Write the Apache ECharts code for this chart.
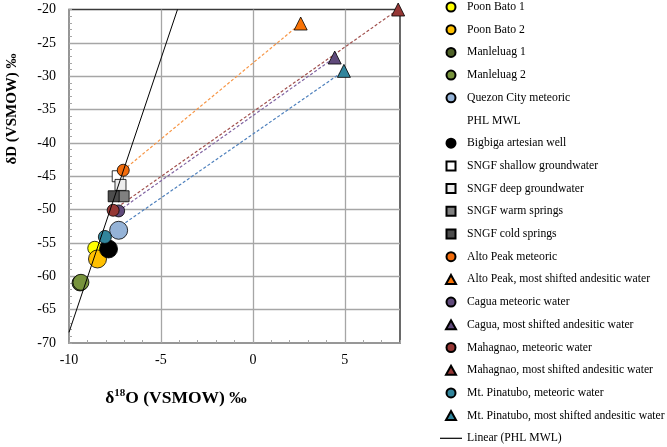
<!DOCTYPE html>
<html>
<head>
<meta charset="utf-8">
<script src="https://cdn.jsdelivr.net/npm/echarts@6/dist/echarts.min.js"></script>
<style>
html,body{margin:0;padding:0;background:#fff;}
#chart{width:667px;height:447px;}
</style>
</head>
<body>
<div id="chart"></div>
<script>
// ---- data ----
const pointNames = [
  'Poon Bato 1', 'Poon Bato 2', 'Manleluag 1', 'Manleluag 2', 'Quezon City meteoric',
  'Bigbiga artesian well', 'SNGF shallow groundwater', 'SNGF deep groundwater',
  'SNGF warm springs', 'SNGF cold springs', 'Alto Peak meteoric',
  'Alto Peak, most shifted andesitic water', 'Cagua meteoric water',
  'Cagua, most shifted andesitic water', 'Mahagnao, meteoric water',
  'Mahagnao, most shifted andesitic water', 'Mt. Pinatubo, meteoric water',
  'Mt. Pinatubo, most shifted andesitic water'
];
const d18O = [-8.6, -8.45, -9.4, -9.35, -7.3, -7.85, -7.35, -7.2, -7.03, -7.57, -7.05, 2.6, -7.3, 4.45, -7.6, 7.9, -8.05, 4.95];
const dD   = [-55.8, -57.4, -61.0, -60.9, -53.1, -55.9, -45.0, -46.3, -48.0, -48.0, -44.1, -22.1, -50.2, -27.2, -50.1, -20.0, -54.1, -29.2];
// Mixing lines: [meteoric index, shifted index]
const mixingPairs = [[10, 11], [14, 15], [12, 13], [16, 17]];
// PHL MWL (linear fit) end points
const mwlX = [-10, -4.1];
const mwlY = [-68.4, -20];
const xTicks = [-10, -5, 0, 5];
const yTicks = [-70, -65, -60, -55, -50, -45, -40, -35, -30, -25, -20];

// ---- styles ----
const symbols = ['circle','circle','circle','circle','circle','circle','rect','rect','rect','rect',
  'circle','triangle','circle','triangle','circle','triangle','circle','triangle'];
const sizes = [14, 18, 16, 16, 18, 18, 11, 11, 11, 11, 12, [13,13], 12, [13,13], 12, [13,13], 13, [13,13]];
const colors = ['#FFFF00','#FFC000','#4F6228','#77933C','#95B3D7','#000000','#FFFFFF','#EDEDED',
  '#808080','#4D4D4D','#F26C0C','#F97306','#604A7B','#604A7B','#953735','#953735','#31859C','#31859C'];
const mixColors = ['#F79646', '#A0504D', '#8064A2', '#4F81BD'];
const legendIcons = {
  circle: 'circle',
  rect: 'path://M0,0L10,0L10,10L0,10Z',
  triangle: 'path://M5,0L10,9L0,9Z'
};

const FONT = '"Liberation Serif", "Times New Roman", serif';

const series = [];
mixingPairs.forEach((p, i) => {
  series.push({
    name: 'mix' + i, type: 'line', silent: true, symbol: 'none', z: 1,
    data: [[d18O[p[0]], dD[p[0]]], [d18O[p[1]], dD[p[1]]]],
    lineStyle: { color: mixColors[i], width: 1.2, type: [3, 2] }
  });
});
const legendData = [];
pointNames.forEach((n, i) => {
  series.push({
    name: n, type: 'scatter', z: 3 + i * 0.01,
    symbol: symbols[i], symbolSize: sizes[i],
    data: [[d18O[i], dD[i]]],
    itemStyle: { color: colors[i], borderColor: '#000', borderWidth: 0.8, opacity: 1 }
  });
  legendData.push({ name: n, icon: legendIcons[symbols[i]] });
  if (i === 4) {
    legendData.push({ name: 'PHL MWL', icon: 'none' });
  }
});
series.push({ name: 'PHL MWL', type: 'scatter', data: [], itemStyle: { color: '#000' } });
series.push({
  name: 'Linear (PHL MWL)', type: 'line', symbol: 'none', showSymbol: false, z: 5,
  data: mwlX.map((x, i) => [x, mwlY[i]]),
  lineStyle: { color: '#000', width: 1 },
  itemStyle: { color: '#000' }
});
legendData.push({
  name: 'Linear (PHL MWL)', icon: 'path://M0,0L22,0L22,1.2L0,1.2Z',
  itemStyle: { color: '#000', borderWidth: 0 }
});

const axisGray = '#A6A6A6';
const chart = echarts.init(document.getElementById('chart'), null, { renderer: 'canvas' });
chart.setOption({
  animation: false,
  backgroundColor: '#fff',
  grid: { left: 69, top: 9.5, width: 331, height: 333.5, show: true,
          borderColor: '#3A3A3A', borderWidth: 1.5, backgroundColor: 'transparent' },
  xAxis: {
    type: 'value', min: xTicks[0], max: 8, interval: 5, z: 1,
    axisLine: { show: true, onZero: false, lineStyle: { color: axisGray, width: 1.5 } },
    axisTick: { show: true, inside: true, length: 3, lineStyle: { color: axisGray } },
    minorTick: { show: true, splitNumber: 5, length: 3, lineStyle: { color: axisGray } },
    splitLine: { show: true, showMinLine: false, showMaxLine: false, lineStyle: { color: axisGray, width: 1.3 } },
    axisLabel: { showMaxLabel: false, margin: 10, color: '#000', fontFamily: FONT, fontSize: 14 }
  },
  yAxis: {
    type: 'value', min: yTicks[0], max: yTicks[yTicks.length - 1], interval: 5, z: 1,
    axisLine: { show: true, onZero: false, lineStyle: { color: axisGray, width: 1.5 } },
    axisTick: { show: true, inside: true, length: 3, lineStyle: { color: axisGray } },
    minorTick: { show: true, splitNumber: 5, length: 3, lineStyle: { color: axisGray } },
    splitLine: { show: true, showMinLine: false, showMaxLine: false, lineStyle: { color: axisGray, width: 1.3 } },
    axisLabel: { margin: 13, color: '#000', fontFamily: FONT, fontSize: 14 }
  },
  legend: {
    orient: 'vertical', left: 440, top: 0, padding: 0,
    itemWidth: 22, itemHeight: 9, itemGap: 8.7,
    symbolKeepAspect: true,
    selectedMode: false,
    textStyle: { color: '#000', fontFamily: FONT, fontSize: 11.7, lineHeight: 14 },
    data: legendData
  },
  graphic: [
    {
      type: 'text', x: 176, y: 398,
      style: {
        text: '{a|δ}{s|18}{a|O (VSMOW) ‰}',
        align: 'center', verticalAlign: 'middle',
        rich: {
          a: { fontFamily: FONT, fontWeight: 'bold', fontSize: 17.5, fill: '#000', lineHeight: 20 },
          s: { fontFamily: FONT, fontWeight: 'bold', fontSize: 11, fill: '#000', lineHeight: 20, padding: [0, 0, 9, 0] }
        }
      }
    },
    {
      type: 'text', x: 12, y: 109, rotation: Math.PI / 2,
      style: {
        text: 'δD (VSMOW) ‰',
        align: 'center', verticalAlign: 'middle',
        fontFamily: FONT, fontWeight: 'bold', fontSize: 15, fill: '#000'
      }
    }
  ],
  series: series
});
</script>
</body>
</html>
